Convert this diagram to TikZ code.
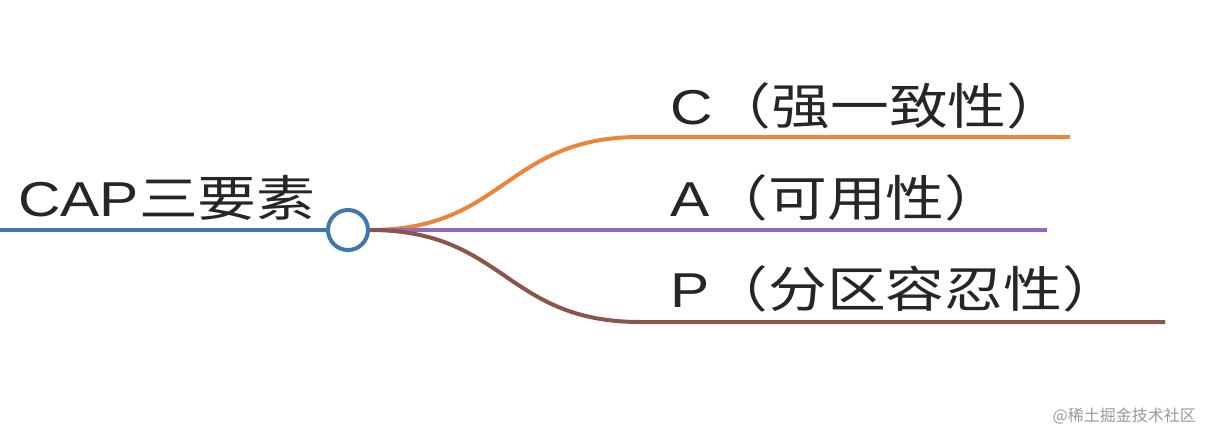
\documentclass[tikz,border=0pt]{standalone}
\usepackage{fontspec}
\setmainfont{Noto Sans CJK SC}
\newfontfamily\latinf{Liberation Sans}
\begin{document}
\begin{tikzpicture}[x=1pt,y=-1pt,
  lbl/.style={anchor=base west,inner sep=0pt,font=\fontsize{49}{52}\selectfont,text=black!85,xscale=1.2,transform shape},
  br/.style={line width=4pt}]
\definecolor{cb}{HTML}{3F77AE}
\definecolor{co}{HTML}{EC843A}
\definecolor{cp}{HTML}{9468BE}
\definecolor{cn}{HTML}{8A554B}
\useasboundingbox (0,0) rectangle (1206,434);
\coordinate (l0) at (0,230);
\node[circle,draw=cb,line width=4pt,minimum size=40pt,inner sep=0pt,fill=white] (c) at (348,230) {};
\node[lbl] (root) at (18,216) {{\latinf CAP}三要素};
\coordinate (o1) at (640,137); \coordinate (o2) at (1070,137);
\coordinate (p2) at (1047,230);
\coordinate (n1) at (640,322); \coordinate (n2) at (1165,322);
\draw[br,cb] (l0) -- (c.west);
\draw[br,co] (c.east) .. controls (505,230) and (505,137) .. (o1) -- (o2);
\draw[br,cp] (c.east) -- (p2);
\draw[br,cn] (c.east) .. controls (505,230) and (505,322) .. (n1) -- (n2);
\node[lbl] (tc) at (670,124) {{\latinf C}（强一致性）};
\node[lbl] (ta) at (670,216) {{\latinf A}（可用性）};
\node[lbl] (tp) at (670,307) {{\latinf P}（分区容忍性）};
\node[anchor=base east,inner sep=0pt,font=\fontsize{16}{18}\selectfont,text=black!40] (wm) at (1196,421) {@稀土掘金技术社区};
\end{tikzpicture}
\end{document}
